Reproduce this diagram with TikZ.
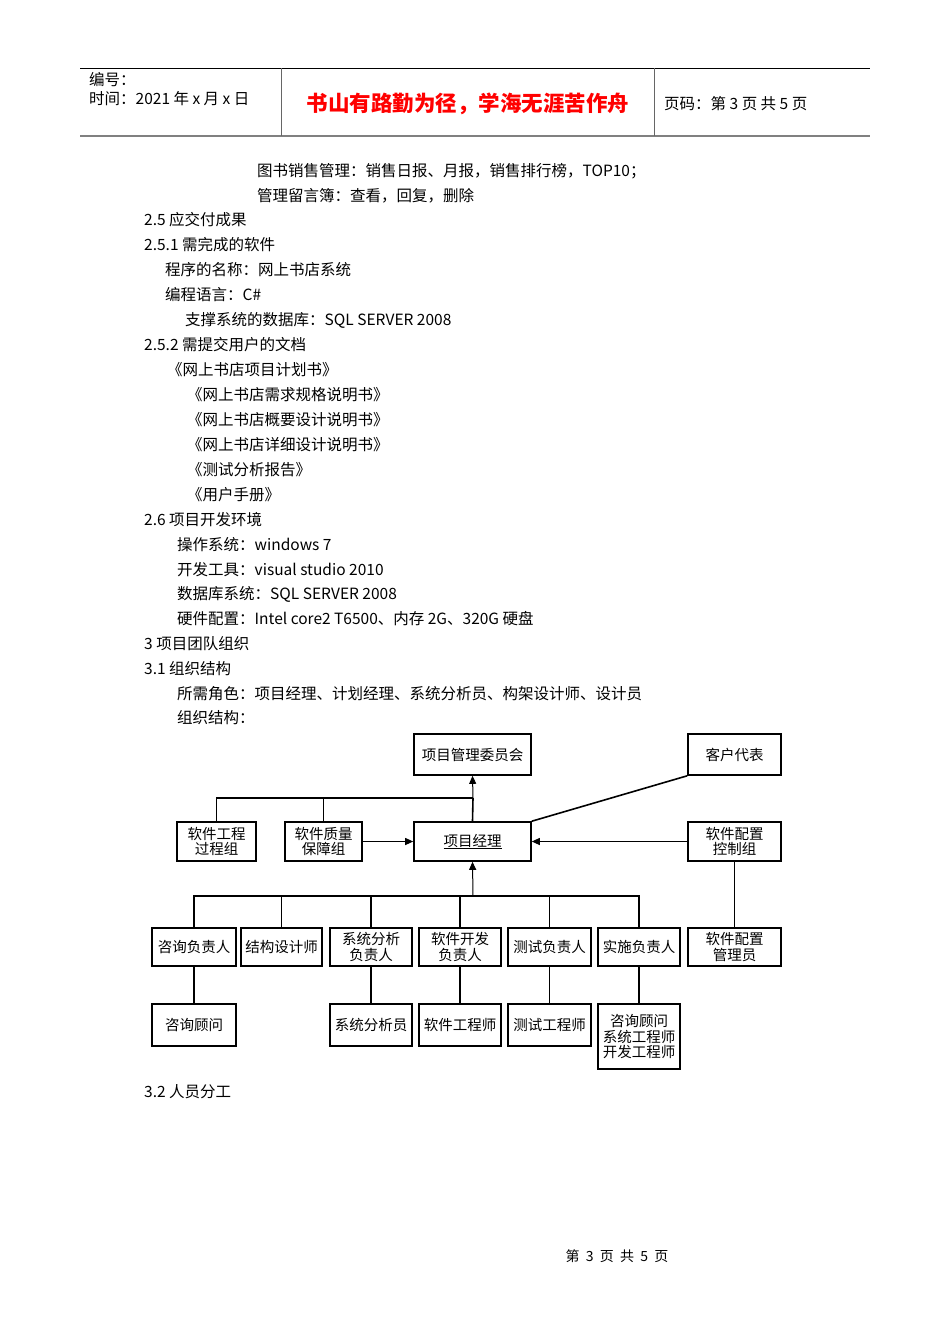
\documentclass[tikz,border=0pt]{standalone}
\usepackage{fontspec}
\setmainfont{Liberation Serif}
\newfontfamily\cjk{Noto Sans CJK SC}
\usetikzlibrary{arrows.meta}
\begin{document}
\begin{tikzpicture}[x=1pt,y=-1pt,
  txt/.style={anchor=west,inner sep=0pt,font=\fontsize{15.5}{16}\selectfont\cjk},
  bx/.style={draw,line width=1.6pt,inner sep=0pt,font=\fontsize{14.5}{15.5}\selectfont\cjk,align=center},
  ln/.style={line width=1.6pt},
  ar/.style={line width=1pt,-{Triangle[length=8pt,width=7pt]}}]
\useasboundingbox (0,0) rectangle (950,1344);
\fill[white] (0,0) rectangle (950,1344);
% header
\draw[line width=0.8pt] (80,68) -- (870,68);
\draw[line width=1.8pt,gray] (80,136) -- (870,136);
\draw[line width=0.8pt,gray!80!black] (281,68) -- (281,136) (654,68) -- (654,136);
\node[txt] (h1) at (89,80) {编号：};
\node[txt] (h2) at (89,99) {时间：2021 年 x 月 x 日};
\node[inner sep=0pt,text=red,font=\fontsize{21.5}{23}\selectfont\cjk\bfseries] (h3) at (468,104) {书山有路勤为径，学海无涯苦作舟};
\node[txt] (h4) at (664,104) {页码：第 3 页 共 5 页};
% body text
\node[txt] (t1) at (257,171) {图书销售管理：销售日报、月报，销售排行榜，TOP10；};
\node[txt] (t2) at (257,196) {管理留言簿：查看，回复，删除};
\node[txt] (t3) at (144,220) {2.5 应交付成果};
\node[txt] (t4) at (144,245) {2.5.1 需完成的软件};
\node[txt] (t5) at (165,270) {程序的名称：网上书店系统};
\node[txt] (t6) at (165,295) {编程语言：C\#};
\node[txt] (t7) at (185,320) {支撑系统的数据库：SQL SERVER 2008};
\node[txt] (t8) at (144,345) {2.5.2 需提交用户的文档};
\node[txt] (t9) at (167,370) {《网上书店项目计划书》};
\node[txt] (t10) at (187,395) {《网上书店需求规格说明书》};
\node[txt] (t11) at (187,420) {《网上书店概要设计说明书》};
\node[txt] (t12) at (187,445) {《网上书店详细设计说明书》};
\node[txt] (t13) at (187,470) {《测试分析报告》};
\node[txt] (t14) at (187,495) {《用户手册》};
\node[txt] (t15) at (144,520) {2.6 项目开发环境};
\node[txt] (t16) at (177,545) {操作系统：windows 7};
\node[txt] (t17) at (177,570) {开发工具：visual studio 2010};
\node[txt] (t18) at (177,594) {数据库系统：SQL SERVER 2008};
\node[txt] (t19) at (177,619) {硬件配置：Intel core2 T6500、内存 2G、320G 硬盘};
\node[txt] (t20) at (144,644) {3 项目团队组织};
\node[txt] (t21) at (144,669) {3.1 组织结构};
\node[txt] (t22) at (177,694) {所需角色：项目经理、计划经理、系统分析员、构架设计师、设计员};
\node[txt] (t23) at (177,718) {组织结构：};
\node[txt] (t24) at (144,1092) {3.2 人员分工};
\node[inner sep=0pt,font=\fontsize{14}{15}\selectfont\cjk] (ft) at (617,1256) {第\ \ 3\ \ 页\ \ 共\ \ 5\ \ 页};
% chart
\newcommand{\bxat}[6]{\node[bx,minimum width=#4-#3,minimum height=#6-#5] (#1) at ({(#3+#4)/2},{(#5+#6)/2}) {#2};}
\bxat{wyh}{项目管理委员会}{414}{531}{734}{775}
\bxat{kh}{客户代表}{688}{781}{734}{775}
\bxat{gc}{软件工程\\过程组}{177}{256}{822}{861}
\bxat{zl}{软件质量\\保障组}{285}{362}{822}{861}
\bxat{pm}{\underline{项目经理}}{414}{531}{822}{861}
\bxat{kz}{软件配置\\控制组}{688}{781}{822}{861}
\bxat{zx}{咨询负责人}{152}{236}{928}{966}
\bxat{jg}{结构设计师}{241}{322}{928}{966}
\bxat{xt}{系统分析\\负责人}{330}{412}{928}{966}
\bxat{kf}{软件开发\\负责人}{419}{501}{928}{966}
\bxat{cs}{测试负责人}{508}{591}{928}{966}
\bxat{ss}{实施负责人}{598}{680}{928}{966}
\bxat{gl}{软件配置\\管理员}{688}{781}{928}{966}
\bxat{gw}{咨询顾问}{152}{236}{1004}{1046}
\bxat{fx}{系统分析员}{330}{412}{1004}{1046}
\bxat{gcs}{软件工程师}{419}{501}{1004}{1046}
\bxat{csg}{测试工程师}{508}{591}{1004}{1046}
\bxat{mix}{咨询顾问\\系统工程师\\开发工程师}{598}{680}{1004}{1069}
\coordinate (top) at (473,798);
\coordinate (bus) at (473,896);
\draw[ln] (gc.north) |- (top) (zl.north) |- (top);
\draw[ln] (top) -- (pm.north);
\draw[ar] (top) -- (wyh.south);
\draw[ln] (zx.north) |- (bus) (jg.north) |- (bus) (xt.north) |- (bus) (kf.north) |- (bus) (cs.north) |- (bus) (ss.north) |- (bus);
\draw[ar] (bus) -- (pm.south);
\draw[ar] (zl.east) -- (pm.west);
\draw[ar] (kz.west) -- (pm.east);
\draw[ln] (kh.south west) -- (pm.north east);
\draw[ln] (kz.south) -- (gl.north);
\draw[ln] (zx.south) -- (gw.north) (xt.south) -- (fx.north) (kf.south) -- (gcs.north) (cs.south) -- (csg.north) (ss.south) -- (mix.north);
\end{tikzpicture}
\end{document}
